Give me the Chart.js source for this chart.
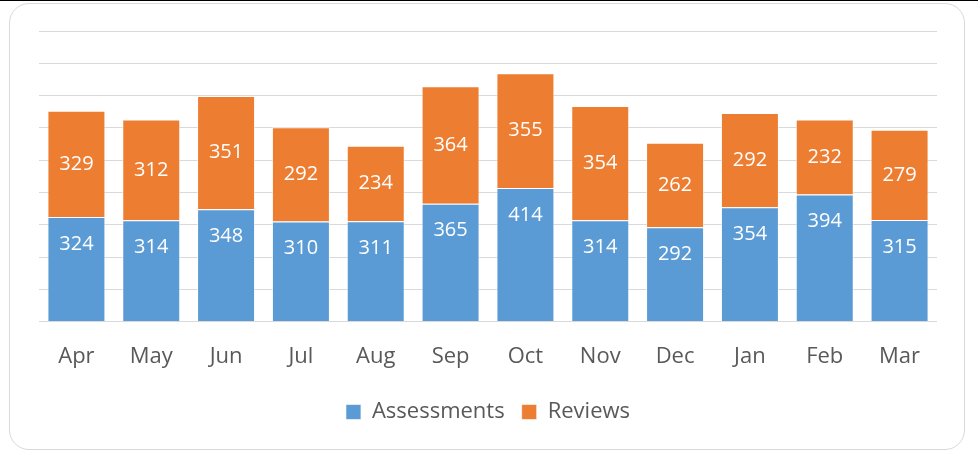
<!DOCTYPE html>
<html>
<head>
<meta charset="utf-8">
<script src="https://cdn.jsdelivr.net/npm/chart.js@4"></script>
<style>
  html, body { margin: 0; padding: 0; background: #fff; }
  body { width: 978px; height: 457px; position: relative; overflow: hidden; border-top: 1px solid #000; box-sizing: border-box; }
  #frame { position: absolute; left: 9px; top: 2px; width: 956px; height: 447px; border: 1px solid #d9d9d9; border-radius: 20px; box-sizing: border-box; }
  #chart { position: absolute; left: 0; top: 0; }
</style>
</head>
<body>
<div id="frame"></div>
<canvas id="chart" width="978" height="457"></canvas>
<script>
// Monthly figures
const months = ['Apr', 'May', 'Jun', 'Jul', 'Aug', 'Sep', 'Oct', 'Nov', 'Dec', 'Jan', 'Feb', 'Mar'];
const assessments = [324, 314, 348, 310, 311, 365, 414, 314, 292, 354, 394, 315];
const reviews = [329, 312, 351, 292, 234, 364, 355, 354, 262, 292, 232, 279];

const fontFamily = "'Open Sans', 'Noto Sans', sans-serif";
const textGrey = '#595959';

// draws the white value labels inside the bars
const barLabels = {
    id: 'barLabels',
    afterDatasetsDraw(chart) {
        const ctx = chart.ctx;
        ctx.save();
        ctx.fillStyle = '#fff';
        ctx.font = '20px ' + fontFamily;
        ctx.textAlign = 'center';
        ctx.textBaseline = 'middle';
        chart.data.datasets.forEach(function(ds, i) {
            const meta = chart.getDatasetMeta(i);
            meta.data.forEach(function(bar, j) {
                let y;
                if (i === 0) {
                    y = bar.y + 27;  // near the top of the blue part
                } else {
                    y = (bar.y + bar.base) / 2;
                }
                ctx.fillText(ds.data[j], bar.x, y);
            });
        });
        ctx.restore();
    }
};

const ctx = document.getElementById('chart').getContext('2d');
const chart = new Chart(ctx, {
    type: 'bar',
    data: {
        labels: months,
        datasets: [{
            label: 'Assessments',
            data: assessments,
            backgroundColor: '#5b9bd5',
            borderColor: 'rgba(255,255,255,0.6)',
            borderWidth: 1,
            categoryPercentage: 1,
            barPercentage: 0.775
        }, {
            label: 'Reviews',
            data: reviews,
            backgroundColor: '#ed7d31',
            borderColor: 'rgba(255,255,255,0.6)',
            borderWidth: 1,
            categoryPercentage: 1,
            barPercentage: 0.775
        }]
    },
    options: {
        responsive: false,
        animation: false,
        layout: {
            padding: { left: 39, right: 41, top: 30, bottom: 25 }
        },
        scales: {
            x: {
                stacked: true,
                grid: { display: false },
                border: { display: false },
                ticks: {
                    color: textGrey,
                    font: { family: fontFamily, size: 22 },
                    padding: 14
                }
            },
            y: {
                stacked: true,
                min: 0,
                max: 900,
                ticks: { display: false, stepSize: 100 },
                border: { display: false },
                grid: { color: '#d9d9d9', lineWidth: 1, drawTicks: false },
                afterFit: function(scale) { scale.width = 0; }
            }
        },
        plugins: {
            legend: {
                position: 'bottom',
                labels: {
                    color: textGrey,
                    font: { family: fontFamily, size: 22 },
                    boxWidth: 15,
                    boxHeight: 15,
                    padding: 17
                }
            },
            tooltip: { enabled: false }
        }
    },
    plugins: [barLabels]
});
</script>
</body>
</html>
